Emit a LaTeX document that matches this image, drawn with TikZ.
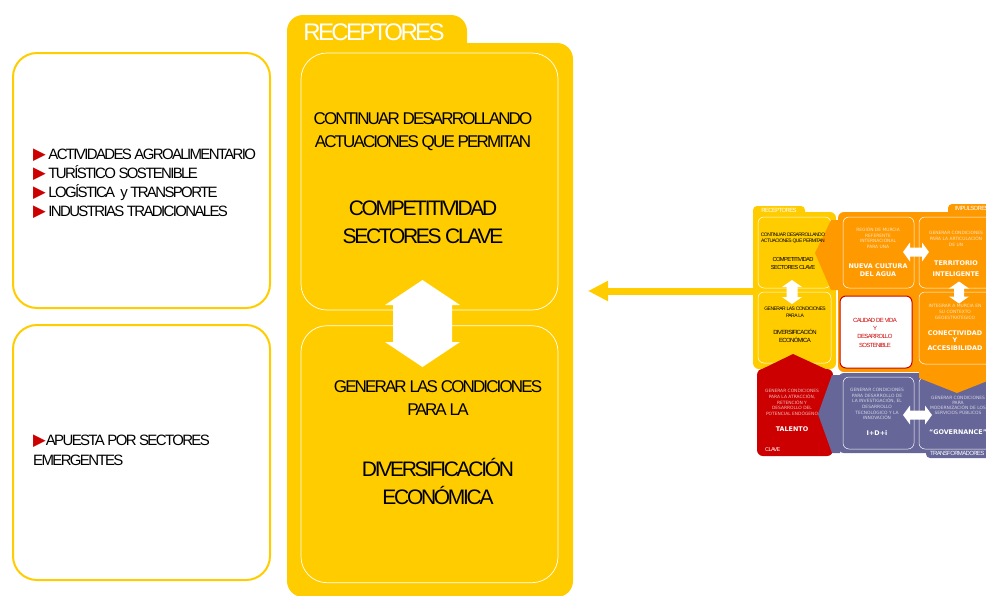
\documentclass[tikz,border=0pt]{standalone}
\usepackage{fontspec}
\setmainfont{Liberation Sans}[LetterSpace=-11]
\newfontfamily\verdana{DejaVu Sans}
\usetikzlibrary{positioning,arrows.meta}

\definecolor{recyellow}{HTML}{FFCC00}
\definecolor{imporange}{HTML}{FF9900}
\definecolor{clavered}{HTML}{CC0000}
\definecolor{transpurple}{HTML}{666699}

\newcommand{\pointer}{{\verdana\color{clavered}\fontsize{16.5}{16}\selectfont ▶}}

% white block arrow: length/head width/shaft width/head length
\tikzset{
  pics/dblarrow/.style args={#1/#2/#3/#4}{code={
    \fill[white] (0,-#1/2) -- (#2/2,-#1/2+#4) -- (#3/2,-#1/2+#4) -- (#3/2,#1/2-#4) -- (#2/2,#1/2-#4) -- (0,#1/2)
      -- (-#2/2,#1/2-#4) -- (-#3/2,#1/2-#4) -- (-#3/2,-#1/2+#4) -- (-#2/2,-#1/2+#4) -- cycle;
  }}
}

\begin{document}
\begin{tikzpicture}[
    x=1pt, y=-1pt,
    sidebox/.style={draw=recyellow, line width=2pt, rounded corners=24pt, minimum width=257pt, minimum height=255pt},
    panelbox/.style={draw=white, line width=0.7pt, rounded corners=26pt, minimum width=257pt, minimum height=257pt},
    minibox/.style={draw=white, line width=0.5pt, rounded corners=6pt},
    listtext/.style={align=left, inner sep=0pt, font=\fontsize{15}{19}\selectfont},
    bigtext/.style={align=center, inner sep=0pt, font=\fontsize{21}{28}\selectfont},
    midtext/.style={align=center, inner sep=0pt, font=\fontsize{17}{23.5}\selectfont},
    mininarrow/.style={align=center, inner sep=0pt, font=\fontsize{5}{6}\selectfont},
    minismall/.style={align=center, inner sep=0pt, text=white, text opacity=0.72, font=\verdana\fontsize{4.4}{5.7}\selectfont},
    minibold/.style={align=center, inner sep=0pt, text=white, font=\verdana\bfseries\fontsize{6.4}{8}\selectfont},
    bigarrow/.style={recyellow, line width=7pt, -{Triangle[length=20pt,width=19pt]}}
]
\useasboundingbox (0,0) rectangle (986,595);

% Left boxes
\node[sidebox] (sectorbox) at (141.5,180.5) {};
\node[sidebox, below=15pt of sectorbox] (emergebox) {};
\node[listtext, anchor=west] (sectors) at (33,183.5) {\pointer\ ACTIVIDADES AGROALIMENTARIO\\\pointer\ TURÍSTICO SOSTENIBLE\\\pointer\ LOGÍSTICA \ y TRANSPORTE\\\pointer\ INDUSTRIAS TRADICIONALES};
\node[listtext, anchor=west, font=\fontsize{15}{20}\selectfont] (emerging) at (33,450) {\pointer APUESTA POR SECTORES\\EMERGENTES};

% Receptores panel
\fill[recyellow, rounded corners=16pt] (287,15) rectangle (467,70);
\fill[recyellow, rounded corners=16pt] (287,43) rectangle (573,597);
\node[text=white, inner sep=0pt, font=\fontsize{24}{24}\selectfont] (paneltitle) at (374,32) {RECEPTORES};
\node[panelbox] (compbox) at (429.5,181.5) {};
\node[panelbox, below=15pt of compbox] (divbox) {};
\pic at (422.5,323.5) {dblarrow=87/75/59/25};

\node[midtext] (continuar) at (423,131.5) {CONTINUAR DESARROLLANDO\\ACTUACIONES QUE PERMITAN};
\node[bigtext] (competit) at (423,222) {COMPETITIVIDAD\\SECTORES CLAVE};
\node[midtext] (generar) at (438,398) {GENERAR LAS CONDICIONES\\PARA LA};
\node[bigtext] (diversif) at (438,481) {DIVERSIFICACIÓN\\ECONÓMICA};

% Small diagram
\begin{scope}
\clip (0,0) rectangle (986,595);
% receptores
\fill[recyellow, rounded corners=4pt] (753,206) rectangle (805,220);
\fill[recyellow, rounded corners=6pt] (753,212) rectangle (836,369);
\node[minibox, minimum width=73pt, minimum height=71pt] (mcompbox) at (794.5,252.5) {};
\node[minibox, minimum width=73pt, minimum height=71pt] (mdivbox) at (794.5,327.5) {};
% clave
\fill[clavered, rounded corners=6pt] (757,369) rectangle (833,456);
\fill[clavered] (758,371) -- (793,354) -- (830,371) -- cycle;
% impulsores
\fill[imporange, rounded corners=4pt] (948,204) rectangle (1000,220);
\fill[imporange, rounded corners=6pt] (838,212) rectangle (1000,372);
\fill[imporange] (840,220) -- (831,220) -- (815,253) -- (831,290) -- (840,290) -- cycle;
\node[draw=clavered, fill=white, line width=1pt, rounded corners=6pt, minimum width=72pt, minimum height=72pt] (mcalidad) at (876,332) {};
% transformadores
\fill[transpurple, rounded corners=4pt] (926,440) rectangle (1000,458);
\fill[transpurple, rounded corners=6pt] (838,373) rectangle (1000,453);
\fill[transpurple] (840,375) -- (832,375) -- (818,414) -- (832,453) -- (840,453) -- cycle;
\node[minibox, minimum width=71pt, minimum height=71pt] (maguabox) at (878.5,252.5) {};
\node[minibox, minimum width=77pt, minimum height=71pt] (mterrbox) at (957.5,252.5) {};
\node[minibox, minimum width=77pt, minimum height=72pt] (mconecbox) at (957.5,328) {};
\node[minibox, minimum width=71pt, minimum height=72pt] (midibox) at (878.5,413) {};
\node[minibox, minimum width=77pt, minimum height=72pt] (mgovbox) at (957.5,413) {};
\fill[imporange] (919,366) -- (919,378) -- (957,393) -- (995,378) -- (995,366) -- cycle;
% white arrows
\pic at (792,292) {dblarrow=24/20/11/7};
\pic[rotate=90] at (916,252) {dblarrow=26/19/9/7};
\pic at (959,292.5) {dblarrow=22/20/10/7};
\pic[rotate=90] at (917.5,415) {dblarrow=29/19/9/7};

% texts
\node[mininarrow, text=white, font=\fontsize{6}{6}\selectfont] (mrectitle) at (779,210) {RECEPTORES};
\node[mininarrow, text=white, font=\fontsize{6}{6}\selectfont, anchor=west] (mimptitle) at (955,208.5) {IMPULSORES};
\node[mininarrow, text=white, font=\fontsize{6}{6}\selectfont, anchor=west] (mtrantitle) at (930,453) {TRANSFORMADORES};
\node[mininarrow, text=white, font=\fontsize{5.5}{6}\selectfont, anchor=west] (mclavetitle) at (765,450) {CLAVE};
\node[mininarrow] (mcont) at (793,238) {CONTINUAR DESARROLLANDO\\ACTUACIONES QUE PERMITAN};
\node[mininarrow, font=\fontsize{5.8}{8.5}\selectfont] (mcomp) at (793,263.5) {COMPETITIVIDAD\\SECTORES CLAVE};
\node[mininarrow, font=\fontsize{5}{7}\selectfont] (mgen) at (795,312.5) {GENERAR LAS CONDICIONES\\PARA LA};
\node[mininarrow, font=\fontsize{6}{8}\selectfont] (mdiv) at (795,336) {DIVERSIFICACIÓN\\ECONÓMICA};
\node[mininarrow, text=clavered, font=\fontsize{6}{8.3}\selectfont] (mcal) at (875,332.5) {CALIDAD DE VIDA\\Y\\DESARROLLO\\SOSTENIBLE};
\node[minismall] (mtalsub) at (792,402.5) {GENERAR CONDICIONES\\PARA LA ATRACCIÓN,\\RETENCIÓN Y\\DESARROLLO DEL\\POTENCIAL ENDÓGENO};
\node[minibold] (mtal) at (792,429) {TALENTO};
\node[minismall] (maguasub) at (878,238) {REGIÓN DE MURCIA\\REFERENTE\\INTERNACIONAL\\PARA UNA};
\node[minibold] (magua) at (878,270) {NUEVA CULTURA\\DEL AGUA};
\node[minismall] (mterrsub) at (956,239) {GENERAR CONDICIONES\\PARA LA ARTICULACIÓN\\DE UN};
\node[minibold, font=\verdana\bfseries\fontsize{6.4}{11}\selectfont] (mterr) at (956,268.5) {TERRITORIO\\INTELIGENTE};
\node[minismall] (mconecsub) at (955,312) {INTEGRAR A MURCIA EN\\SU CONTEXTO\\GEOESTRATÉGICO};
\node[minibold, font=\verdana\bfseries\fontsize{6.4}{7.5}\selectfont] (mconec) at (955,340.5) {CONECTIVIDAD\\Y\\ACCESIBILIDAD};
\node[minismall] (midisub) at (877,404) {GENERAR CONDICIONES\\PARA DESARROLLO DE\\LA INVESTIGACIÓN, EL\\DESARROLLO\\TECNOLÓGICO Y LA\\INNOVACIÓN};
\node[minibold] (midi) at (877,433) {I+D+i};
\node[minismall, font=\verdana\fontsize{4.4}{5}\selectfont] (mgovsub) at (958,405.5) {GENERAR CONDICIONES\\PARA\\MODERNIZACIÓN DE LOS\\SERVICIOS PÚBLICOS};
\node[minibold] (mgov) at (958,432) {“GOVERNANCE”};
\end{scope}

% Arrow to the panel
\coordinate (minileft) at (755,291);
\coordinate (paneltip) at (588,291);
\draw[bigarrow] (minileft) -- (paneltip);

\end{tikzpicture}
\end{document}
